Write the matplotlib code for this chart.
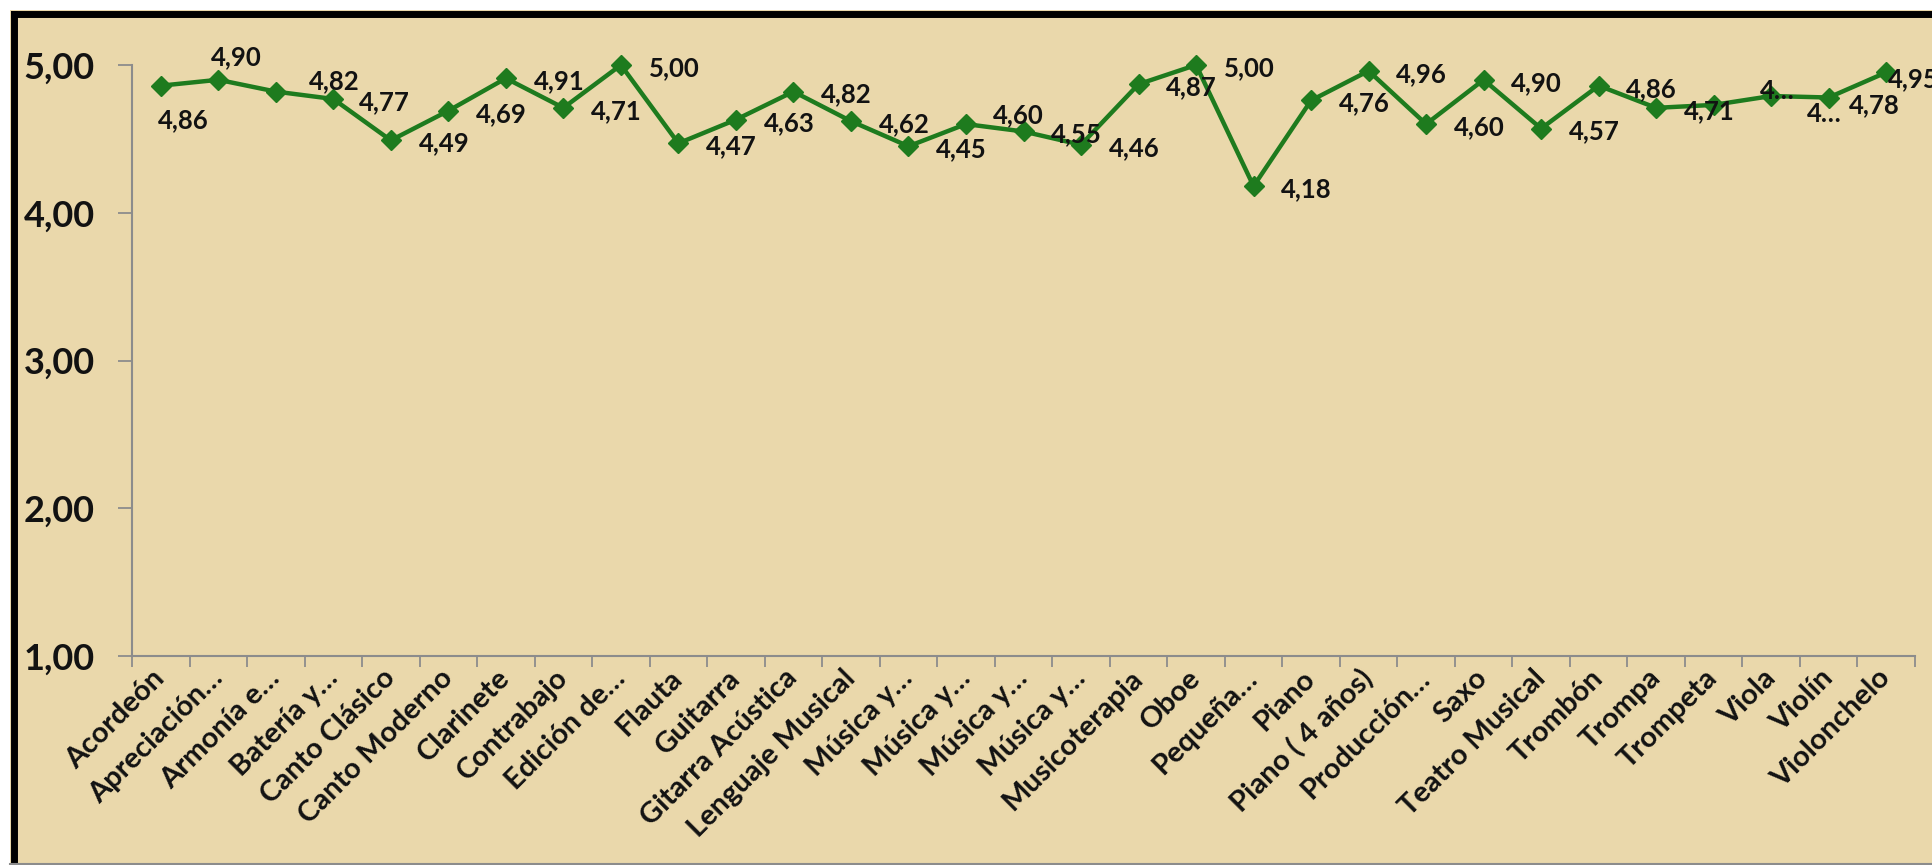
import numpy as np
import matplotlib.pyplot as plt
from matplotlib.patches import Rectangle
from matplotlib.lines import Line2D

plt.rcParams['font.family'] = ['Lato', 'DejaVu Sans']
plt.rcParams['font.weight'] = 'bold'

# Datos del gráfico
carreras = ['Acordeón', 'Apreciación…', 'Armonía e…', 'Batería y…', 'Canto Clásico',
            'Canto Moderno', 'Clarinete', 'Contrabajo', 'Edición de…', 'Flauta',
            'Guitarra', 'Gitarra Acústica', 'Lenguaje Musical', 'Música y…', 'Música y…',
            'Música y…', 'Música y…', 'Musicoterapia', 'Oboe', 'Pequeña…', 'Piano',
            'Piano ( 4 años)', 'Producción…', 'Saxo', 'Teatro Musical', 'Trombón',
            'Trompa', 'Trompeta', 'Viola', 'Violín', 'Violonchelo']
promedio = [4.86, 4.90, 4.82, 4.77, 4.49, 4.69, 4.91, 4.71, 5.00, 4.47,
            4.63, 4.82, 4.62, 4.45, 4.60, 4.55, 4.46, 4.87, 5.00, 4.18,
            4.76, 4.96, 4.60, 4.90, 4.57, 4.86, 4.71, 4.73, 4.79, 4.78, 4.95]
yticks = [1, 2, 3, 4, 5]

# etiquetas de datos (dos quedan recortadas como en el original)
etiquetas = [f'{v:.2f}'.replace('.', ',') for v in promedio]
etiquetas[27] = '4…'
etiquetas[28] = '4…'

# desplazamiento de cada etiqueta respecto al punto (pixeles)
desp = [(53, -3)] * len(promedio)
desp[0] = (23, -34)
desp[1] = (18, 23)
desp[2] = (58, 10)
desp[3] = (51, -3)
desp[14] = (52, 9)
desp[27] = (64, 14)
desp[28] = (53, -18)
desp[29] = (46, -8)
desp[30] = (27, -7)

beige = '#EAD8AB'
verde = '#1E7B1E'
gris = '#8C8C8C'
texto = '#121212'

W, H = 1932, 865
fig = plt.figure(figsize=(W / 100, H / 100), dpi=100)
fig.patch.set_facecolor('white')

# fondo y marco
fig.add_artist(Rectangle((10 / W, 0), 1, 855 / H, transform=fig.transFigure,
                         facecolor=beige, edgecolor='none', zorder=-2))
fig.add_artist(Line2D([13.5 / W, 13.5 / W], [0, 851.5 / H], transform=fig.transFigure,
                      color='black', linewidth=5, solid_capstyle='projecting'))
fig.add_artist(Line2D([13.5 / W, 1], [851.5 / H, 851.5 / H], transform=fig.transFigure,
                      color='black', linewidth=5, solid_capstyle='projecting'))
fig.add_artist(Line2D([10 / W, 1], [1.5 / H, 1.5 / H], transform=fig.transFigure,
                      color=gris, linewidth=1.5))

ax = fig.add_axes([132 / W, (H - 656) / H, (1915 - 132) / W, (656 - 65) / H])
ax.set_facecolor('none')

x = np.arange(len(carreras))
ax.plot(x, promedio, color=verde, linewidth=3.2, marker='D', markersize=10.5,
        clip_on=False, zorder=3)

for xi, yi, et, (dx, dy) in zip(x, promedio, etiquetas, desp):
    ax.annotate(et, (xi, yi), xytext=(dx, dy), textcoords='offset pixels',
                ha='center', va='center', fontsize=18.5, fontweight='bold',
                color=texto, annotation_clip=False, zorder=4)

ax.set_xlim(-0.5, len(carreras) - 0.5)
ax.set_ylim(1, 5)
ax.set_yticks(yticks)
ax.set_yticklabels([f'{v:.2f}'.replace('.', ',') for v in yticks],
                   fontsize=26, fontweight='bold', color=texto)
ax.set_xticks(x)
ax.set_xticklabels(carreras, rotation=45, ha='right', va='center',
                   rotation_mode='anchor', fontsize=21, fontweight='bold', color=texto)
ax.set_xticks(np.arange(-0.5, len(carreras), 1), minor=True)

ax.tick_params(axis='y', length=10, width=1.3, color=gris, pad=17)
ax.tick_params(axis='x', which='major', length=0, pad=13)
ax.tick_params(axis='x', which='minor', length=8, width=1.3, color=gris)

for lado in ['top', 'right']:
    ax.spines[lado].set_visible(False)
for lado in ['left', 'bottom']:
    ax.spines[lado].set_color(gris)
    ax.spines[lado].set_linewidth(1.5)

fig.savefig('out.png', dpi=100, facecolor=fig.get_facecolor())
